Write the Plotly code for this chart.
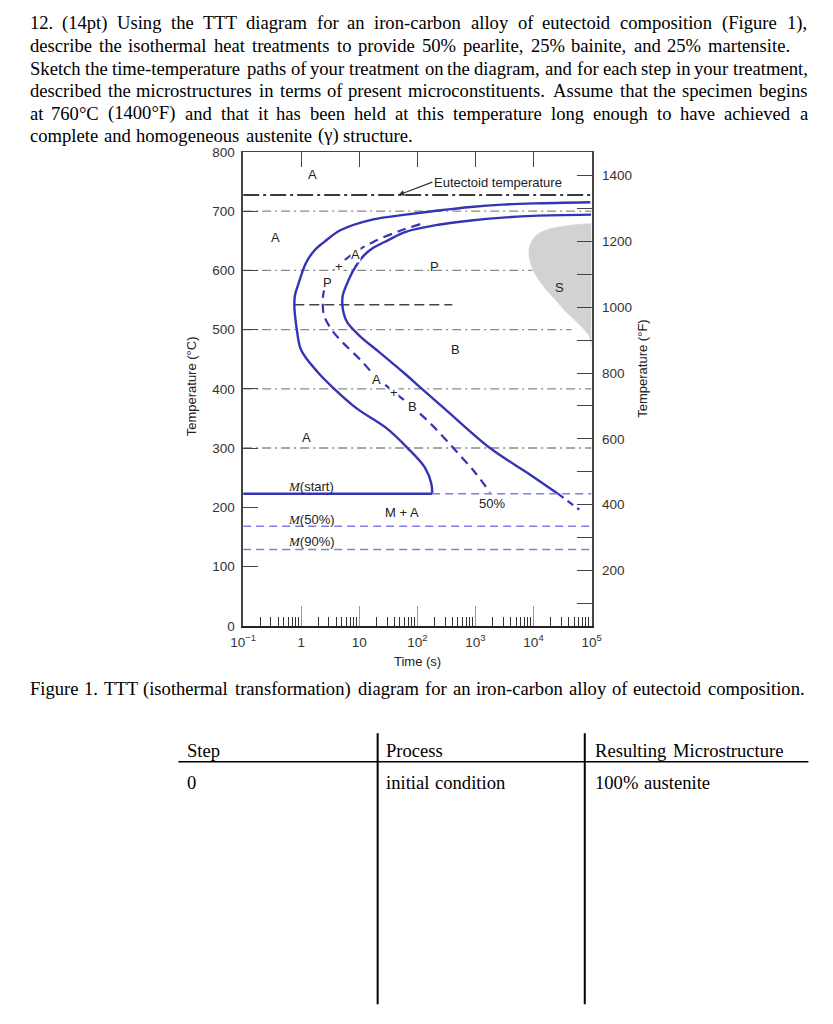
import math
import plotly.graph_objects as go

W, H = 833, 1024

# ---------------- data ----------------
# transformation-start curve (outer solid blue)
start_time = [95000, 10000, 2950, 830, 229, 63, 17.4, 4.8, 2.5, 1.7, 1.2, 0.88, 0.78, 0.76, 0.78, 0.84, 1.0, 1.93, 3.7, 9.0, 29, 68, 135, 174, 180]
start_temp = [715, 713, 711, 707, 701, 694, 686, 668, 648, 634, 612, 575, 558, 542, 525, 500, 465, 428, 400, 367, 334, 300, 267, 240, 223]
# transformation-finish curve (inner solid blue) and its dashed tail below Ms
finish_time = [98000, 10000, 2950, 830, 229, 63, 31.6, 17.4, 11.7, 7.9, 6.0, 5.2, 5.1, 5.4, 6.2, 10.0, 22, 57, 120, 290, 1780, 8500, 26300]
finish_temp = [694, 692, 689, 684, 677, 665, 651, 638, 624, 600, 575, 558, 543, 527, 512, 490, 462, 428, 400, 367, 300, 256, 223]
finish_tail_time = [26300, 61700]
finish_tail_temp = [223, 196]
# 50 % transformation curve (dashed blue)
half_time = [112, 48, 17.4, 9.0, 4.2, 2.7, 2.4, 2.35, 2.45, 2.8, 3.7, 5.2, 10.2, 19.5, 38, 81, 174, 417, 1000, 1780]
half_temp = [678, 666, 648, 632, 606, 578, 560, 542, 525, 512, 494, 478, 450, 420, 396, 370, 340, 300, 258, 225]
# grey spheroidite region
s_time = [100000, 50000, 30200, 19000, 13800, 11000, 9550, 8700, 8300, 8400, 8900, 10000, 12300, 16600, 23400, 33000, 50000, 72000, 91000, 100000]
s_temp = [679, 677, 674, 670, 665, 659, 651, 643, 634, 623, 612, 598, 584, 567, 551, 534, 517, 502, 490, 472]
# grey dash-dot isotherms
ref_temp = [700, 600, 500, 400, 300]
ref_end = [100000, 9500, 45000, 100000, 100000]
t_min, t_max = 0.1, 100000
eutectoid_temp = 727
nose_temp, nose_t0, nose_t1 = 542, 0.76, 400
ms_temp, ms_end = 223, 180
m50_temp, m90_temp = 168, 129

x_tick_vals = [0.1, 1, 10, 100, 1000, 10000, 100000]
x_tick_text = ["10<sup>\u22121</sup>", "1", "10", "10<sup>2</sup>", "10<sup>3</sup>", "10<sup>4</sup>", "10<sup>5</sup>"]
top_tick_vals = [1, 10, 100, 1000, 10000]
minor_tick_vals = [m * 10 ** e for e in range(-1, 5) for m in range(2, 10)]
c_tick_vals = list(range(0, 801, 100))
f_tick_vals = list(range(200, 1401, 200))

def c_to_f(c):
    return c * 9 / 5 + 32

MI = "<i><span style='font-family:Liberation Serif'>M</span></i>"
# region labels: (text, time [s], temp [C], sits on a dashed curve)
region_labels = [
    ("A", 1.58, 762, False), ("A", 0.36, 655, False), ("P", 200, 607, False), ("A", 8.5, 627, True),
    ("+", 4.4, 606, True), ("P", 2.8, 579, True), ("S", 28000, 571, False), ("B", 450, 467, False),
    ("A", 20, 416, True), ("+", 40, 394, True), ("B", 81, 371, True), ("A", 1.23, 317, False),
    ("M + A", 55, 191, False), ("50%", 1900, 206, False),
    (MI + "(start)", 1.5, 235, False), (MI + "(50%)", 1.5, 180, False), (MI + "(90%)", 1.5, 142, False),
]
eutectoid_label_time = 47

# page text
question_lines = [
    "12. (14pt) Using the TTT diagram for an iron-carbon alloy of eutectoid composition (Figure 1),",
    "describe the isothermal heat treatments to provide 50% pearlite, 25% bainite, and 25% martensite.",
    "Sketch the time-temperature paths of your treatment on the diagram, and for each step in your treatment,",
    "described the microstructures in terms of present microconstituents. Assume that the specimen begins",
    "at 760\u00b0C (1400\u00b0F) and that it has been held at this temperature long enough to have achieved a",
    "complete and homogeneous austenite (\u03b3) structure.",
]
caption = "Figure 1. TTT (isothermal transformation) diagram for an iron-carbon alloy of eutectoid composition."
table_header = ["Step", "Process", "Resulting Microstructure"]
table_row = ["0", "initial condition", "100% austenite"]

# ---------------- layout geometry (pixels) ----------------
PL, PR, PT, PB = 236.7, 595.0, 147.0, 628.0
def px(x):
    return x / W
def py(y):
    return 1 - y / H

BLUE = "#3434b4"
LBLUE = "#7f7fe0"
GREY = "#8a8a8a"
SANS = "Liberation Sans"
SERIF = "Liberation Serif"
LABEL_FONT = dict(family=SANS, size=13, color="#222")
SMOOTH = 1.0

fig = go.Figure()

# grey S region
fig.add_trace(go.Scatter(x=s_time, y=s_temp, mode="lines", fill="toself", fillcolor="#d2d2d2",
                         line=dict(color="#d2d2d2", width=0.5), hoverinfo="skip"))
# isotherms
for T, te in zip(ref_temp, ref_end):
    fig.add_trace(go.Scatter(x=[t_min, te], y=[T, T], mode="lines",
                             line=dict(color=GREY, width=1.4, dash="9px,4px,2px,4px"), hoverinfo="skip"))
# nose dashed black line
fig.add_trace(go.Scatter(x=[nose_t0, nose_t1], y=[nose_temp, nose_temp], mode="lines",
                         line=dict(color="#444", width=1.6, dash="10px,5px"), hoverinfo="skip"))
# curves
fig.add_trace(go.Scatter(x=start_time, y=start_temp, mode="lines",
                         line=dict(color=BLUE, width=2.4, shape="spline", smoothing=SMOOTH), hoverinfo="skip"))
fig.add_trace(go.Scatter(x=finish_time, y=finish_temp, mode="lines",
                         line=dict(color=BLUE, width=2.4, shape="spline", smoothing=SMOOTH), hoverinfo="skip"))
fig.add_trace(go.Scatter(x=finish_tail_time, y=finish_tail_temp, mode="lines",
                         line=dict(color=BLUE, width=2.2, dash="7px,5px"), hoverinfo="skip"))
fig.add_trace(go.Scatter(x=half_time, y=half_temp, mode="lines",
                         line=dict(color=BLUE, width=2.2, dash="9px,6px", shape="spline", smoothing=SMOOTH),
                         hoverinfo="skip"))
# martensite lines
fig.add_trace(go.Scatter(x=[t_min, ms_end], y=[ms_temp, ms_temp], mode="lines",
                         line=dict(color=BLUE, width=2.4), hoverinfo="skip"))
fig.add_trace(go.Scatter(x=[ms_end, t_max], y=[ms_temp, ms_temp], mode="lines",
                         line=dict(color=LBLUE, width=1.5, dash="8px,5px"), hoverinfo="skip"))
for T in (m50_temp, m90_temp):
    fig.add_trace(go.Scatter(x=[t_min, t_max], y=[T, T], mode="lines", xaxis="x3", yaxis="y",
                             line=dict(color=LBLUE, width=1.5, dash="8px,5px"), hoverinfo="skip"))
# eutectoid line, drawn on the Fahrenheit axis
fig.add_trace(go.Scatter(x=[t_min, t_max], y=[c_to_f(eutectoid_temp)] * 2, mode="lines", xaxis="x2", yaxis="y2",
                         line=dict(color="#3a3a3a", width=2, dash="16px,4px,3px,4px"), hoverinfo="skip"))

annotations = []
for txt, t, T, on_curve in region_labels:
    a = dict(x=math.log10(t), y=T, xref="x", yref="y", text=txt, showarrow=False, font=LABEL_FONT)
    if on_curve:
        a.update(bgcolor="white", borderpad=0)
    annotations.append(a)
annotations.append(dict(x=math.log10(eutectoid_label_time), y=eutectoid_temp, xref="x", yref="y",
                        text="Eutectoid temperature", showarrow=True, ax=34, ay=-13, xanchor="left",
                        arrowhead=2, arrowsize=1, arrowwidth=1.2, arrowcolor="#333", font=LABEL_FONT))
# axis titles
annotations.append(dict(x=px(183), y=py(385), xref="paper", yref="paper", text="Temperature (\u00b0C)",
                        xanchor="center", yanchor="middle", textangle=-90, showarrow=False, font=LABEL_FONT))
annotations.append(dict(x=px(648), y=py(367), xref="paper", yref="paper", text="Temperature (\u00b0F)",
                        xanchor="center", yanchor="middle", textangle=-90, showarrow=False, font=LABEL_FONT))
annotations.append(dict(x=px(416), y=py(664), xref="paper", yref="paper", text="Time (s)",
                        xanchor="center", yanchor="middle", showarrow=False, font=LABEL_FONT))

# ---- Times-metric text placement (justified) ----
TW = {' ': 250, '.': 250, ',': 250, '(': 333, ')': 333, '%': 833, '\u00b0': 400, '-': 333, ':': 278, '\u03b3': 411}
for ch in "0123456789":
    TW[ch] = 500
TW.update(dict(A=722, B=667, C=667, D=722, E=611, F=556, G=722, H=722, I=333, J=389, K=722, L=611, M=889,
               N=722, O=722, P=556, Q=722, R=667, S=556, T=611, U=722, V=722, W=944, X=722, Y=722, Z=611))
TW.update(dict(a=444, b=500, c=444, d=500, e=444, f=333, g=500, h=500, i=278, j=278, k=500, l=278, m=778,
               n=500, o=500, p=500, q=500, r=333, s=389, t=278, u=500, v=500, w=722, x=500, y=500, z=444))
FS_LAYOUT = 19.5   # size used to compute word slots
FS = 18.6          # size actually drawn (reference glyphs are slightly condensed)

def word_w(w):
    return sum(TW.get(c, 500) for c in w) / 1000 * FS_LAYOUT

def place_line(line, y, x0, x1, justify):
    words = line.split(" ")
    widths = [word_w(w) for w in words]
    if justify and len(words) > 1:
        gap = (x1 - x0 - sum(widths)) / (len(words) - 1)
    else:
        gap = 0.25 * FS_LAYOUT
    x = x0
    for w, wd in zip(words, widths):
        annotations.append(dict(x=px(x), y=py(y), xref="paper", yref="paper", text=w, showarrow=False,
                                xanchor="left", yanchor="middle", borderpad=0,
                                font=dict(family=SERIF, size=FS, color="black")))
        x += wd + gap

line_y = [16, 39, 62, 85, 108, 130]
line_end = [816, 800, 818, 817, 817, 0]
for i, (ln, y) in enumerate(zip(question_lines, line_y)):
    place_line(ln, y, 16, line_end[i], justify=(i < len(question_lines) - 1))
place_line(caption, 692, 16, 815, justify=True)

col_x = [178, 383, 598]
for txt, x in zip(table_header, col_x):
    place_line(txt, 755, x, 0, justify=False)
for txt, x in zip(table_row, col_x):
    place_line(txt, 787, x, 0, justify=False)

shapes = [
    dict(type="line", xref="paper", yref="paper", x0=px(170), x1=px(818), y0=py(766), y1=py(766),
         line=dict(color="black", width=1.5)),
    dict(type="line", xref="paper", yref="paper", x0=px(375), x1=px(375), y0=py(737), y1=py(1012),
         line=dict(color="black", width=2)),
    dict(type="line", xref="paper", yref="paper", x0=px(588), x1=px(588), y0=py(737), y1=py(1012),
         line=dict(color="black", width=2)),
]

tickfont = dict(family=SANS, size=13.5, color="#333")
xdom = [px(PL), px(PR)]
ydom = [py(PB), py(PT)]
fig.update_layout(
    width=W, height=H, margin=dict(l=0, r=0, t=0, b=0),
    paper_bgcolor="white", plot_bgcolor="white", showlegend=False,
    annotations=annotations, shapes=shapes,
    xaxis=dict(type="log", range=[-1, 5], domain=xdom, anchor="y", tickvals=x_tick_vals, ticktext=x_tick_text,
               ticks="inside", ticklen=20, tickwidth=1, tickcolor="#999", showline=True, linecolor="#222",
               linewidth=2, showgrid=False, zeroline=False, tickfont=tickfont, ticklabelstandoff=3),
    xaxis2=dict(type="log", range=[-1, 5], overlaying="x", side="top", anchor="y2", tickvals=top_tick_vals,
                ticks="inside", ticklen=15, tickwidth=1.2, tickcolor="#444", showticklabels=False,
                showline=True, linecolor="#444", linewidth=1.3, showgrid=False, zeroline=False),
    xaxis3=dict(type="log", range=[-1, 5], overlaying="x", side="bottom", anchor="y", tickvals=minor_tick_vals,
                ticks="inside", ticklen=9, tickwidth=1.2, tickcolor="#333", showticklabels=False,
                showline=False, showgrid=False, zeroline=False),
    yaxis=dict(range=[0, 800], domain=ydom, anchor="x", tickvals=c_tick_vals, ticks="inside", ticklen=15,
               tickwidth=1.2, tickcolor="#444", showline=True, linecolor="#444", linewidth=1.5,
               showgrid=False, zeroline=False, tickfont=tickfont, ticklabelstandoff=4),
    yaxis2=dict(range=[c_to_f(0), c_to_f(800)], overlaying="y", side="right", anchor="x", tickvals=f_tick_vals,
                ticks="inside", ticklen=15, tickwidth=1.2, tickcolor="#444",
                minor=dict(ticks="inside", ticklen=15, tickwidth=1.2, tickcolor="#444", dtick=100, tick0=100),
                showline=True, linecolor="#444", linewidth=1.5, showgrid=False, zeroline=False,
                tickfont=tickfont, ticklabelstandoff=6),
)

fig.write_html("out.html")
